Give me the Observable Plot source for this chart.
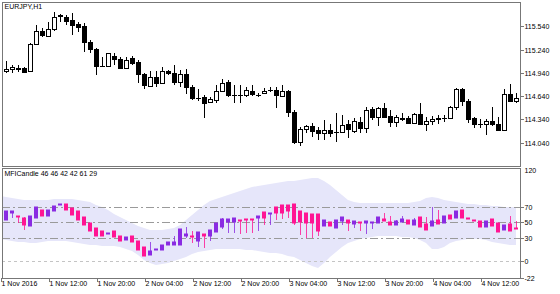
<!DOCTYPE html>
<html><head><meta charset="utf-8">
<script src="https://cdn.jsdelivr.net/npm/d3@7"></script>
<script src="https://cdn.jsdelivr.net/npm/@observablehq/plot@0.6"></script>
<style>
html,body{margin:0;padding:0;background:#fff;}
#chart{position:relative;width:560px;height:294px;overflow:hidden;background:#fff;}
#chart svg{display:block;}
</style></head><body><div id="chart"></div>
<script>
const symbolTitle = "EURJPY,H1";
const indicatorTitle = "MFICandle 46 46 42 42 61 29";

const priceOpen = [114.964,114.964,114.985,114.994,115.007,114.964,115.308,115.484,115.415,115.501,115.673,115.664,115.621,115.565,115.544,115.334,115.248,115.030,115.028,115.157,115.119,115.003,115.127,115.076,114.925,114.775,114.891,114.805,114.968,114.943,114.827,114.925,114.762,114.622,114.625,114.569,114.590,114.711,114.827,114.657,114.655,114.655,114.706,114.660,114.676,114.717,114.719,114.642,114.711,114.431,114.053,114.212,114.255,114.204,114.161,114.204,114.184,114.182,114.277,114.195,114.311,114.225,114.470,114.367,114.483,114.384,114.311,114.352,114.354,114.298,114.410,114.281,114.324,114.352,114.354,114.354,114.504,114.728,114.582,114.354,114.283,114.277,114.324,114.281,114.204,114.663,114.582];
const priceHigh = [114.975,115.097,115.041,115.037,115.020,115.321,115.553,115.514,115.600,115.729,115.699,115.686,115.707,115.600,115.578,115.364,115.256,115.149,115.200,115.192,115.140,115.149,115.157,115.106,114.943,114.968,114.968,115.020,114.977,115.041,114.977,114.985,114.784,114.728,114.655,114.633,114.784,114.861,114.848,114.784,114.784,114.762,114.784,114.685,114.741,114.754,114.754,114.784,114.719,114.462,114.238,114.268,114.290,114.238,114.333,114.281,114.427,114.397,114.333,114.354,114.376,114.504,114.504,114.504,114.547,114.462,114.397,114.419,114.384,114.419,114.556,114.367,114.384,114.397,114.397,114.513,114.741,114.741,114.599,114.376,114.341,114.341,114.496,114.367,114.728,114.796,114.685];
const priceLow = [114.955,114.943,114.934,114.955,114.943,114.955,115.299,115.398,115.398,115.484,115.600,115.557,115.428,115.471,115.213,115.192,114.912,115.020,115.020,115.041,114.990,114.990,115.041,114.814,114.728,114.762,114.754,114.796,114.912,114.784,114.762,114.668,114.590,114.582,114.354,114.547,114.547,114.698,114.633,114.547,114.547,114.633,114.642,114.633,114.663,114.698,114.483,114.633,114.367,114.023,113.998,114.161,114.118,114.075,114.075,114.118,114.053,114.169,114.096,114.169,114.169,114.169,114.333,114.255,114.354,114.247,114.247,114.324,114.290,114.281,114.268,114.195,114.268,114.281,114.311,114.341,114.462,114.513,114.290,114.225,114.225,114.139,114.255,114.195,114.195,114.569,114.547];
const priceClose = [114.962,114.990,115.011,114.998,114.955,115.312,115.484,115.424,115.505,115.656,115.680,115.613,115.557,115.535,115.334,115.243,115.033,115.028,115.192,115.119,115.003,115.106,115.071,114.925,114.779,114.891,114.805,114.968,114.943,114.827,114.925,114.762,114.612,114.618,114.556,114.599,114.711,114.814,114.655,114.653,114.657,114.719,114.663,114.652,114.711,114.721,114.655,114.711,114.440,114.053,114.217,114.255,114.195,114.161,114.204,114.169,114.180,114.268,114.212,114.324,114.225,114.462,114.367,114.483,114.376,114.303,114.367,114.356,114.298,114.410,114.277,114.324,114.346,114.356,114.358,114.504,114.728,114.582,114.341,114.281,114.279,114.320,114.277,114.204,114.663,114.582,114.612];

const mfiOpen = [43.4,53.3,61.9,57.6,55.5,44.7,55.5,65.4,58.5,64.9,71.8,74.0,68.4,64.9,56.3,49.0,42.5,38.2,34.8,38.2,32.7,27.1,32.7,25.3,17.6,7.3,13.8,14.6,21.0,21.0,21.0,32.7,31.8,26.2,35.2,31.8,37.4,43.4,50.3,50.3,52.4,54.6,53.8,55.5,63.2,60.6,69.2,71.8,71.8,74.0,64.9,61.9,60.6,60.6,44.7,50.3,42.5,51.2,53.3,47.7,49.9,49.0,49.0,49.0,54.6,49.9,46.0,49.9,52.4,46.9,56.3,47.7,44.7,53.3,49.0,58.9,55.5,66.2,55.0,53.3,51.2,43.4,54.6,49.0,39.5,47.7,42.1];
const mfiHigh = [61.9,64.9,64.1,57.6,56.3,57.6,69.2,65.4,65.4,71.4,73.5,74.0,68.4,64.9,56.3,49.0,42.5,38.2,36.1,38.2,32.7,30.5,32.7,25.3,17.6,24.5,14.8,21.0,24.5,31.8,41.7,43.4,38.2,37.4,35.2,39.5,49.0,55.5,54.6,55.5,52.4,54.6,53.8,58.5,63.2,61.5,69.2,71.8,71.8,74.0,64.9,61.9,60.6,60.6,53.3,50.3,53.3,56.3,53.3,51.2,49.9,51.2,49.9,56.3,61.9,57.6,53.3,57.6,52.4,55.5,56.3,56.3,69.2,66.2,57.6,58.9,64.9,66.2,55.0,53.3,51.2,51.2,54.6,49.0,46.9,57.6,51.2];
const mfiLow = [43.4,53.3,55.5,49.0,40.4,44.7,55.5,58.5,58.5,64.9,71.8,66.2,59.8,53.3,46.0,38.2,31.8,32.7,34.8,30.9,25.3,27.1,24.5,14.6,6.0,7.3,13.8,14.6,21.0,21.0,21.0,29.6,23.2,17.6,16.7,26.2,37.4,41.7,36.1,36.1,34.8,36.1,36.1,39.1,46.9,46.9,53.3,54.6,55.5,46.9,33.9,29.6,29.6,31.8,44.7,44.7,42.5,46.9,38.2,42.5,39.1,34.8,41.7,49.0,51.2,46.0,46.0,49.9,47.7,46.9,43.4,40.4,44.7,47.7,49.0,54.6,55.5,55.5,54.2,52.0,43.4,43.4,44.7,37.4,39.5,38.2,41.3];
const mfiClose = [61.9,64.1,64.1,56.3,46.9,57.6,69.2,58.5,65.4,71.4,73.5,66.2,59.8,53.3,46.0,38.2,31.8,32.7,36.1,30.9,25.3,30.5,24.5,14.6,6.0,13.3,14.8,21.0,24.5,24.5,41.7,35.2,30.5,37.4,32.7,39.5,49.0,54.6,54.6,55.5,51.2,52.4,52.9,58.5,55.5,61.5,61.9,61.9,64.1,49.0,50.3,49.0,49.0,39.1,53.3,44.7,53.3,56.3,49.0,51.2,48.6,51.2,49.9,56.3,51.2,46.0,51.2,54.2,47.7,53.3,43.4,40.4,52.0,47.7,57.6,54.6,64.9,55.5,54.2,52.0,43.4,51.2,44.7,37.4,46.9,38.2,41.3];

const bandUpper = [83.4,83.0,81.3,80.0,78.7,78.3,78.3,78.7,79.1,79.6,80.0,80.0,79.6,78.7,77.8,75.7,72.7,69.2,65.4,61.0,56.7,52.4,48.6,45.1,42.1,40.0,39.5,40.0,40.8,42.5,46.9,53.3,59.8,66.2,72.7,77.0,80.4,83.0,85.6,88.2,90.7,92.9,95.0,97.0,98.5,99.8,101.1,101.9,102.8,103.6,104.9,105.8,106.7,107.1,103.6,98.5,92.0,85.6,79.1,75.7,74.4,74.4,74.8,74.8,74.8,74.8,74.8,74.4,74.8,75.7,77.8,81.3,82.1,81.3,79.1,77.0,75.7,74.8,74.0,73.5,72.7,71.8,71.4,70.5,70.1,69.7,69.2];
const bandLower = [28.8,27.5,26.2,24.9,24.0,23.2,23.6,24.5,25.3,25.8,25.8,25.3,24.5,23.2,21.9,21.0,20.2,19.7,19.3,18.9,18.0,15.9,12.4,7.3,1.7,-3.1,-4.8,-3.9,-2.2,0.4,3.0,5.5,9.0,11.6,13.3,14.1,15.0,15.4,15.9,15.9,15.4,14.6,13.8,12.4,11.6,10.7,9.8,8.6,6.8,5.1,1.7,-2.6,-6.5,-9.1,-2.6,4.7,11.6,17.6,22.8,26.2,28.3,30.1,31.4,31.8,31.8,31.8,31.8,31.4,30.5,29.6,27.1,22.8,15.9,15.0,18.5,22.8,25.3,27.1,27.9,28.3,27.9,26.6,24.9,23.2,21.9,20.6,20.2];

const priceTicks = [114.04,114.34,114.64,114.94,115.24,115.54];
const mfiTicks = [-22,0,30,50,70];
const mfiMaxLabel = [{value: 120, label: "120"}];
const mfiLevels = [30,50,70];
const mfiZero = [0];
const timeTickBars = [0,8,16,24,32,40,48,56,64,72,80];
const timeLabels = ["1 Nov 2016","1 Nov 12:00","1 Nov 20:00","2 Nov 04:00","2 Nov 12:00","2 Nov 20:00","3 Nov 04:00","3 Nov 12:00","3 Nov 20:00","4 Nov 04:00","4 Nov 12:00"];

const upColor = "#8a2be2", downColor = "#ff1493";
const n = priceOpen.length;
const bars = d3.range(n).map(i => ({i, open: priceOpen[i], high: priceHigh[i], low: priceLow[i], close: priceClose[i]}));
const mfi = d3.range(n).map(i => ({i, open: mfiOpen[i], high: mfiHigh[i], low: mfiLow[i], close: mfiClose[i], upper: bandUpper[i], lower: bandLower[i]}));

const W = 560, ML = 2, MR = 40;
const xScale = {domain: [ML / 6, (W - MR) / 6], axis: null, label: null};
const style = {fontFamily: "'Liberation Sans', Arial, sans-serif", fontSize: "7px", color: "#000", background: "transparent", overflow: "visible"};
const frameColor = "#777";
const axisOpts = {anchor: "right", tickSize: 3, tickPadding: 1, stroke: frameColor, fill: "#000", label: null};

const topChart = Plot.plot({
  width: W, height: 167, marginLeft: ML, marginRight: MR, marginTop: 2, marginBottom: 1,
  x: xScale,
  y: {domain: [113.741, 115.853], axis: null, round: true, label: null},
  style,
  marks: [
    Plot.ruleX(bars, {x: "i", y1: "low", y2: "high", stroke: "#000", clip: true}),
    Plot.rect(bars, {x1: d => d.i - 2/6, x2: d => d.i + 2/6, y1: "open", y2: "close",
      fill: d => d.close >= d.open ? "#fff" : "#000", stroke: "#000", dx: 0.5, dy: 0.5, clip: true}),
    Plot.ruleY(bars, {y: "close", x1: d => d.i - 2/6, x2: d => d.i + 3/6, stroke: "#000", clip: true}),
    Plot.frame({stroke: frameColor}),
    Plot.axisY(priceTicks, {...axisOpts, tickFormat: d => d.toFixed(3)}),
    Plot.text([symbolTitle], {frameAnchor: "top-left", dx: 2, dy: 2, fill: "#000"})
  ]
});

const bottomChart = Plot.plot({
  width: W, height: 127, marginLeft: ML, marginRight: MR, marginTop: 1, marginBottom: 16,
  x: xScale,
  y: {domain: [-22, 120], axis: null, round: true, label: null},
  style,
  marks: [
    Plot.areaY(mfi, {x: "i", y1: "lower", y2: "upper", fill: "#e6e6fa", curve: "linear", clip: true}),
    Plot.ruleY(mfiLevels, {stroke: "#9a9a9a", strokeDasharray: "8,3,2,3"}),
    Plot.ruleY(mfiZero, {stroke: "#c4c4c4", strokeDasharray: "3,3"}),
    Plot.ruleX(mfi, {x: "i", y1: "low", y2: "high", stroke: d => d.close >= d.open ? upColor : downColor, strokeOpacity: 0.8, clip: true}),
    Plot.rect(mfi, {x1: d => d.i - 2/6, x2: d => d.i + 2/6, y1: "open", y2: "close",
      fill: d => d.close >= d.open ? upColor : downColor, insetTop: -0.5, insetBottom: -0.5, clip: true}),
    Plot.frame({stroke: frameColor}),
    Plot.axisY(mfiTicks, {...axisOpts, tickFormat: d => d < 0 ? "-" + Math.abs(d) : String(d)}),
    Plot.text(mfiMaxLabel, {y: "value", text: "label", frameAnchor: "right", textAnchor: "start", dx: 4, lineAnchor: "top", fill: "#000"}),
    Plot.axisX(timeTickBars, {anchor: "bottom", tickSize: 4, tickPadding: -1, textAnchor: "start", dx: 1, label: null,
      tickFormat: (d) => timeLabels[timeTickBars.indexOf(d)], stroke: frameColor, fill: "#000"}),
    Plot.text([indicatorTitle], {frameAnchor: "top-left", dx: 2, dy: 3, fill: "#000"})
  ]
});

const chart = document.getElementById("chart");
topChart.style.position = "absolute"; topChart.style.left = "0px"; topChart.style.top = "0px";
bottomChart.style.position = "absolute"; bottomChart.style.left = "0px"; bottomChart.style.top = "167px";
chart.appendChild(topChart);
chart.appendChild(bottomChart);
</script>
</body></html>
